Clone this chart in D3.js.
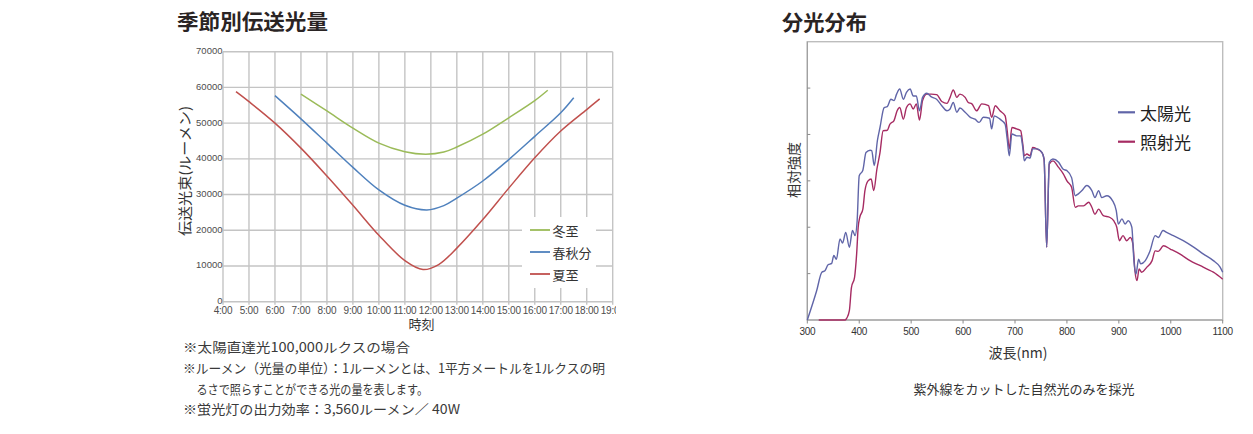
<!DOCTYPE html>
<html><head><meta charset="utf-8">
<script src="https://cdn.jsdelivr.net/npm/d3@7"></script>
<style>
html,body{margin:0;padding:0;background:#fff;}
svg{display:block;}
</style></head>
<body>
<svg id="c" width="1253" height="434"></svg>
<script>
// ---------- Left chart data ----------
const hourTicks = d3.range(4, 20);
const hourLabels = ["4:00","5:00","6:00","7:00","8:00","9:00","10:00","11:00","12:00","13:00","14:00","15:00","16:00","17:00","18:00","19:00"];
const lumenTicks = [0,10000,20000,30000,40000,50000,60000,70000];
const seasonNames = ["冬至","春秋分","夏至"];
const winterT = [7,8,9,10,11,11.8,12.5,13,14,15,16,16.5];
const winterV = [58100,53400,48600,44400,42000,41300,41900,43300,46900,51500,56300,59200];
const equinoxT = [6,7,8,9,10,11,11.85,12.5,13,14,15,16,17,17.5];
const equinoxV = [57700,51200,44400,37600,31300,27000,25700,26900,29000,33800,39800,46300,52900,57100];
const summerT = [4.5,5,6,7,8,9,10,11,11.7,12.3,13,14,15,16,17,18,18.5];
const summerV = [58800,56000,50000,43000,35200,27000,18600,11500,9000,10400,15000,23000,31800,40300,47800,53800,56800];
const notes = [
  "※太陽直達光100,000ルクスの場合",
  "※ルーメン（光量の単位）：1ルーメンとは、1平方メートルを1ルクスの明",
  "るさで照らすことができる光の量を表します。",
  "※蛍光灯の出力効率：3,560ルーメン／ 40W"
];

// ---------- Right chart data ----------
const nmTicks = [300,400,500,600,700,800,900,1000,1100];
const relTicks = [1,2,3,4,5];
const spectrumNames = ["太陽光","照射光"];
const sunNm = [300,318,328,334,340,347,351,356,363,368,374,381,387,392,396,400,407,413,421,424,429,435,440,448,454,461,467,472,478,485,491,498,504,510,516,522,530,539,549,559,569,575,581,588,594,604,614,623,631,639,651,655,660,671,681,685,689,694,703,711,715,718,723,729,734,742,752,756,761,766,773,784,793,800,809,816,822,829,838,848,854,861,867,877,888,895,899,906,912,918,925,929,933,938,942,951,960,970,976,985,992,1005,1024,1044,1063,1082,1095,1100];
const sunVal = [0,0.63,1.03,1.06,1.19,1.22,1.39,1.31,1.75,1.66,1.89,1.57,1.93,1.82,2.14,3.11,3.23,3.61,3.66,3.65,3.33,3.87,4.15,4.58,4.60,4.76,4.73,4.87,4.98,4.76,4.91,4.98,4.83,4.83,4.51,4.80,4.89,4.81,4.76,4.62,4.51,4.55,4.69,4.48,4.57,4.48,4.37,4.33,4.26,4.37,4.35,4.12,4.40,4.33,4.22,3.90,3.54,4.01,3.97,3.97,3.72,3.43,3.51,3.49,3.69,3.69,3.61,3.47,1.57,3.40,3.47,3.40,3.25,3.22,3.07,2.68,2.72,2.79,2.90,2.79,2.64,2.79,2.64,2.68,2.57,2.36,2.07,2.18,2.07,2.14,2.00,1.28,0.99,1.31,1.21,1.28,1.49,1.82,1.78,1.93,1.89,1.82,1.71,1.57,1.42,1.28,1.14,1.03];
const irrNm = [322,373,376,381,385,391,395,398,401,407,411,417,423,428,434,440,446,454,459,467,473,478,485,491,498,504,510,516,522,530,539,549,559,569,575,581,588,594,604,610,617,626,636,649,655,662,671,681,685,689,694,703,711,715,718,723,729,734,742,752,756,761,766,773,784,793,800,809,816,822,832,842,848,854,861,870,883,890,896,901,908,915,922,927,931,935,939,944,954,964,970,976,986,999,1018,1037,1057,1069,1082,1100];
const irrVal = [0,0,0.04,0.2,0.70,0.92,1.42,2.0,2.21,2.39,2.79,3.0,3.04,2.79,3.25,3.61,4.08,4.09,4.22,4.30,4.51,4.58,4.33,4.58,4.66,4.55,4.66,4.31,4.73,4.87,4.87,4.86,4.71,4.67,4.80,4.96,4.80,4.87,4.80,4.69,4.66,4.51,4.66,4.62,4.37,4.62,4.51,4.40,4.08,3.69,4.15,4.12,4.08,3.79,3.54,3.58,3.54,3.72,3.69,3.61,3.47,1.57,3.36,3.43,3.29,3.15,3.00,2.86,2.43,2.46,2.46,2.54,2.43,2.28,2.39,2.25,2.21,2.14,2.00,1.71,1.82,1.71,1.78,1.64,1.06,0.85,1.10,1.03,1.14,1.28,1.49,1.48,1.60,1.53,1.42,1.28,1.17,1.10,1.03,0.88];
const footnote = "紫外線をカットした自然光のみを採光";

const JP = "'Noto Sans CJK JP','Noto Sans',sans-serif";
const NUM = "'Liberation Sans',Arial,sans-serif";
const svg = d3.select("#c");

// ================= LEFT CHART =================
const L = {x0:223, x1:612.7, y0:301.7, y1:51.7};
const xL = d3.scaleLinear().domain([4,19]).range([L.x0,L.x1]);
const yL = d3.scaleLinear().domain([0,70000]).range([L.y0,L.y1]);

svg.append("text").attr("x",177).attr("y",20).attr("dominant-baseline","central")
  .attr("font-family",JP).attr("font-weight",700).attr("font-size",21).attr("fill","#2a2424")
  .attr("textLength",151).attr("lengthAdjust","spacingAndGlyphs").text("季節別伝送光量");

const gL = svg.append("g");
gL.selectAll("line.h").data(lumenTicks).join("line")
  .attr("x1",L.x0).attr("x2",L.x1).attr("y1",d=>yL(d)).attr("y2",d=>yL(d))
  .attr("stroke","#c4c4c4").attr("stroke-width",1.4);
gL.selectAll("line.v").data(hourTicks).join("line")
  .attr("x1",d=>xL(d)).attr("x2",d=>xL(d)).attr("y1",L.y1).attr("y2",L.y0+3)
  .attr("stroke","#c4c4c4").attr("stroke-width",1.4);

gL.selectAll("text.yt").data(lumenTicks).join("text")
  .attr("x",L.x0-0.5).attr("y",d=>yL(d)-1).attr("text-anchor","end").attr("dominant-baseline","central")
  .attr("font-family",NUM).attr("font-size",9.5).attr("fill","#4d4d4d").text(d=>d);

svg.append("clipPath").attr("id","clipL").append("rect").attr("x",150).attr("y",290).attr("width",466).attr("height",30);
gL.append("g").attr("clip-path","url(#clipL)").selectAll("text").data(hourTicks).join("text")
  .attr("x",d=>xL(d)).attr("y",310).attr("text-anchor","middle").attr("dominant-baseline","central")
  .attr("font-family",NUM).attr("font-size",10).attr("letter-spacing",-0.2).attr("fill","#4d4d4d")
  .text((d,i)=>hourLabels[i]);

svg.append("text").attr("x",421.5).attr("y",323.5).attr("text-anchor","middle").attr("dominant-baseline","central")
  .attr("font-family",JP).attr("font-size",13).attr("fill","#333").text("時刻");
svg.append("text").attr("transform","translate(184,171) rotate(-90)").attr("text-anchor","middle")
  .attr("dominant-baseline","central").attr("font-family",JP).attr("font-size",14).attr("fill","#333")
  .attr("textLength",130).attr("lengthAdjust","spacingAndGlyphs").text("伝送光束(ルーメン)");

const seasonColors = ["#9bbb59","#4f81bd","#c0504d"];
const seasonData = [[winterT,winterV],[equinoxT,equinoxV],[summerT,summerV]];
const lineL = d3.line().x(d=>xL(d[0])).y(d=>yL(d[1])).curve(d3.curveCatmullRom.alpha(0.5));
seasonData.forEach((s,i)=>{
  gL.append("path").datum(s[0].map((t,j)=>[t,s[1][j]])).attr("d",lineL)
    .attr("fill","none").attr("stroke",seasonColors[i]).attr("stroke-width",1.5);
});

// legend
gL.append("rect").attr("x",522).attr("y",217).attr("width",74).attr("height",71).attr("fill","#fff");
seasonNames.forEach((n,i)=>{
  const y = 230 + i*22;
  gL.append("line").attr("x1",530).attr("x2",550).attr("y1",y).attr("y2",y)
    .attr("stroke",seasonColors[i]).attr("stroke-width",1.8);
  gL.append("text").attr("x",552.5).attr("y",y).attr("dominant-baseline","central")
    .attr("font-family",JP).attr("font-size",13).attr("fill","#333").text(n);
});

// notes
const noteX = [183,183,196.5,183];
const noteY = [346,367.5,388.5,408.5];
const noteW = [227,422,231.5,277];
notes.forEach((t,i)=>{
  svg.append("text").attr("x",noteX[i]).attr("y",noteY[i]).attr("dominant-baseline","central")
    .attr("font-family",JP).attr("font-size",13).attr("fill","#3a3a3a")
    .attr("textLength",noteW[i]).attr("lengthAdjust","spacingAndGlyphs").text(t);
});

// ================= RIGHT CHART =================
const R = {x0:807.3, x1:1222.7, y0:320, y1:41.7};
const xR = d3.scaleLinear().domain([300,1100]).range([R.x0,R.x1]);
const yR = d3.scaleLinear().domain([0,6]).range([R.y0,R.y1]);

svg.append("text").attr("x",782).attr("y",21).attr("dominant-baseline","central")
  .attr("font-family",JP).attr("font-weight",700).attr("font-size",21).attr("fill","#2a2424")
  .attr("textLength",85).attr("lengthAdjust","spacingAndGlyphs").text("分光分布");

const gR = svg.append("g");
gR.append("rect").attr("x",R.x0).attr("y",R.y1).attr("width",R.x1-R.x0).attr("height",R.y0-R.y1)
  .attr("fill","none").attr("stroke","#bdbdbd").attr("stroke-width",1.4);
gR.append("line").attr("x1",R.x0).attr("x2",R.x0).attr("y1",R.y1).attr("y2",R.y0).attr("stroke","#9a9a9a").attr("stroke-width",1);
gR.append("line").attr("x1",R.x0).attr("x2",R.x1).attr("y1",R.y0).attr("y2",R.y0).attr("stroke","#9a9a9a").attr("stroke-width",1);
gR.selectAll("line.yt").data(relTicks).join("line")
  .attr("x1",R.x0).attr("x2",R.x0+3).attr("y1",d=>yR(d)).attr("y2",d=>yR(d)).attr("stroke","#8a8a8a");
gR.selectAll("line.xt").data(nmTicks).join("line")
  .attr("x1",d=>xR(d)).attr("x2",d=>xR(d)).attr("y1",R.y0).attr("y2",R.y0+3.5).attr("stroke","#8a8a8a");
gR.selectAll("text.xl").data(nmTicks).join("text")
  .attr("x",d=>xR(d)).attr("y",331).attr("text-anchor","middle").attr("dominant-baseline","central")
  .attr("font-family",NUM).attr("font-size",10).attr("letter-spacing",-0.3).attr("fill","#333").text(d=>d);

svg.append("text").attr("x",1018).attr("y",352).attr("text-anchor","middle").attr("dominant-baseline","central")
  .attr("font-family",JP).attr("font-size",14).attr("fill","#333").text("波長(nm)");
svg.append("text").attr("transform","translate(793,170) rotate(-90)").attr("text-anchor","middle")
  .attr("dominant-baseline","central").attr("font-family",JP).attr("font-size",14).attr("fill","#333")
  .text("相対強度");

const specColors = ["#6065a8","#a62b62"];
const lineR = d3.line().x(d=>xR(d[0])).y(d=>yR(d[1])).curve(d3.curveMonotoneX);
const specData = [[sunNm,sunVal],[irrNm,irrVal]];
[1,0].forEach(i=>{
  const s = specData[i];
  gR.append("path").datum(s[0].map((n,j)=>[n,s[1][j]])).attr("d",lineR)
    .attr("fill","none").attr("stroke",specColors[i]).attr("stroke-width",1.4).attr("stroke-linejoin","round");
});

spectrumNames.forEach((n,i)=>{
  const y = 112.3 + i*29.4;
  gR.append("line").attr("x1",1118).attr("x2",1135).attr("y1",y).attr("y2",y)
    .attr("stroke",specColors[i]).attr("stroke-width",2.2);
  gR.append("text").attr("x",1140).attr("y",y).attr("dominant-baseline","central")
    .attr("font-family",JP).attr("font-size",17).attr("fill","#222").text(n);
});

svg.append("text").attr("x",1024).attr("y",388).attr("text-anchor","middle").attr("dominant-baseline","central")
  .attr("font-family",JP).attr("font-size",13).attr("fill","#333").text(footnote);
</script>
</body></html>
